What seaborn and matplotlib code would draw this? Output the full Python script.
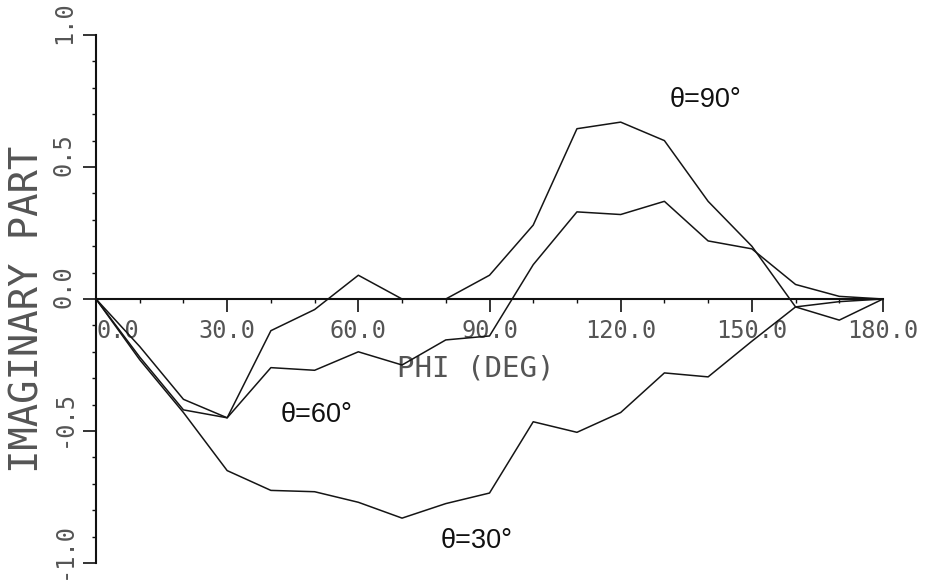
import matplotlib
matplotlib.use("Agg")
import matplotlib.pyplot as plt
import matplotlib.transforms as mtransforms
import seaborn as sns
import numpy as np
from matplotlib.ticker import MultipleLocator, FormatStrFormatter

# ---- data ----
phi = [0, 10, 20, 30, 40, 50, 60, 70, 80, 90, 100, 110, 120, 130, 140, 150, 160, 170, 180]
theta90 = [0.0, -0.18, -0.38, -0.45, -0.12, -0.04, 0.09, 0.0, 0.0, 0.09, 0.28, 0.645,
           0.67, 0.60, 0.37, 0.20, -0.03, -0.08, 0.0]
theta60 = [0.0, -0.22, -0.42, -0.45, -0.26, -0.27, -0.20, -0.25, -0.155, -0.14, 0.13, 0.33,
           0.32, 0.37, 0.22, 0.19, 0.055, 0.01, 0.0]
theta30 = [0.0, -0.23, -0.43, -0.65, -0.725, -0.73, -0.77, -0.83, -0.775, -0.735, -0.465,
           -0.505, -0.43, -0.28, -0.295, -0.16, -0.03, -0.01, 0.0]
curve_labels = ["θ=90°", "θ=60°", "θ=30°"]
label_pos = [(139.3, 0.755), (50.5, -0.44), (87.1, -0.917)]
x_ticks = [0, 30, 60, 90, 120, 150, 180]
y_ticks = [-1.0, -0.5, 0.0, 0.5, 1.0]
x_title = "PHI (DEG)"
y_title = "IMAGINARY PART"

sns.set_style("white")
plt.rcParams["font.family"] = ["DejaVu Sans Mono", "DejaVu Sans"]

fig = plt.figure(figsize=(9.34, 5.86), dpi=100)
ax = fig.add_axes([96 / 934, 23 / 586, 787 / 934, 528 / 586])

for ys in (theta90, theta60, theta30):
    sns.lineplot(x=phi, y=ys, ax=ax, color="#151515", linewidth=1.1)

for txt, (px, py) in zip(curve_labels, label_pos):
    ax.text(px, py, txt, ha="center", va="center", fontsize=19.5,
            family=["Liberation Sans", "DejaVu Sans"], color="#111")

ax.set_xlim(0, 180)
ax.set_ylim(-1.0, 1.0)

for s in ("top", "right"):
    ax.spines[s].set_visible(False)
ax.spines["bottom"].set_position(("data", 0))
ax.spines["left"].set_position(("data", 0))
for s in ("bottom", "left"):
    ax.spines[s].set_linewidth(1.5)
    ax.spines[s].set_color("#111")

ax.set_xticks(x_ticks)
ax.set_yticks(y_ticks)
ax.xaxis.set_minor_locator(MultipleLocator(10))
ax.yaxis.set_minor_locator(MultipleLocator(0.1))
ax.xaxis.set_major_formatter(FormatStrFormatter("%.1f"))
ax.yaxis.set_major_formatter(FormatStrFormatter("%.1f"))

ax.tick_params(axis="both", which="both", bottom=True, left=True, top=False, right=False)
ax.tick_params(axis="both", which="major", direction="out", length=9.5, width=1.2,
               color="#111", labelsize=17, labelcolor="#555", pad=5)
ax.tick_params(axis="both", which="minor", direction="out", length=3, width=1.0, color="#111")
ax.tick_params(axis="y", which="major", labelrotation=90)

shift_up = mtransforms.ScaledTranslation(0, 9 / 72, fig.dpi_scale_trans)
for tick in ax.yaxis.get_major_ticks():
    tick.label1.set_verticalalignment("center")
    tick.label1.set_transform(tick.label1.get_transform() + shift_up)

ax.xaxis.get_major_ticks()[0].label1.set_horizontalalignment("left")

ax.set_xlabel(x_title, fontsize=21, color="#555", va="center")
ax.xaxis.set_label_coords((476 - 96) / 787, (563 - 369) / 528)
ax.set_ylabel(y_title, fontsize=28, color="#555", va="center")
ax.yaxis.set_label_coords((28 - 96) / 787, (563 - 309) / 528)

fig.savefig("out.png", dpi=100)
